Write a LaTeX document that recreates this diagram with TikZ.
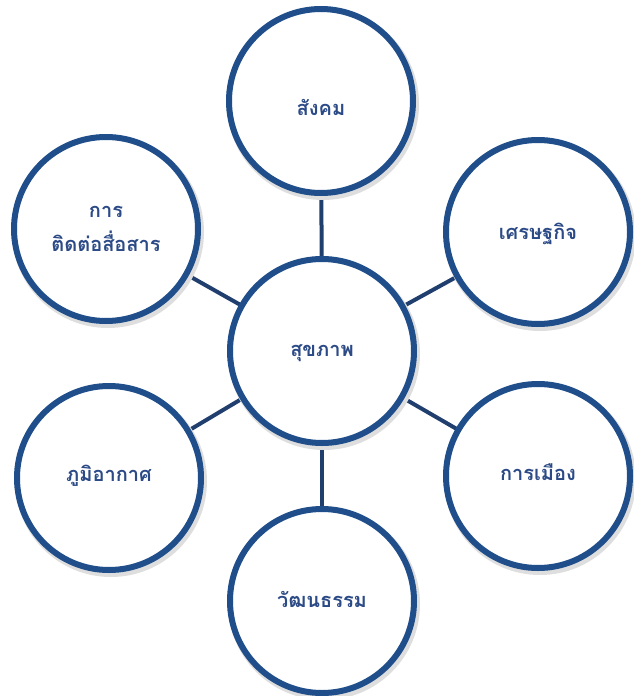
\documentclass[tikz,border=0pt]{standalone}
\usepackage{fontspec}
\usetikzlibrary{calc}
\newfontfamily\thaifont[Script=Thai]{Loma}
\definecolor{ring}{HTML}{1F4E8A}
\definecolor{link}{HTML}{203F6E}
\definecolor{txt}{HTML}{2B4A86}
\begin{document}
\begin{tikzpicture}[x=1pt,y=-1pt,
  bub/.style={circle,draw=ring,line width=6pt,fill=white,minimum size=184pt,inner sep=0pt},
  lbl/.style={font=\thaifont\fontsize{20}{34}\selectfont\bfseries,text=txt,align=center},
  conn/.style={draw=link,line width=4pt}]
\useasboundingbox (0,0) rectangle (634,696);
\coordinate (c0) at (322,351);
\coordinate (c1) at (321,101);
\coordinate (c2) at (538,232);
\coordinate (c3) at (538,476);
\coordinate (c4) at (322,601);
\coordinate (c5) at (109,478);
\coordinate (c6) at (106,229);
\foreach \i in {1,...,6}{\draw[conn] (c0) -- (c\i);}
\foreach \i in {0,...,6}{\fill[black!13] ($(c\i)+(2,3)$) circle (96);}
\foreach \i in {0,...,6}{\node[bub] (n\i) at (c\i) {};}
\node[lbl] (t0) at ($(n0)+(0,2)$) {สุขภาพ};
\node[lbl] (t1) at ($(n1)+(0,6)$) {สังคม};
\node[lbl] (t2) at ($(n2)+(0,2)$) {เศรษฐกิจ};
\node[lbl] (t3) at ($(n3)+(0,-4)$) {การเมือง};
\node[lbl] (t4) at ($(n4)+(0,-2)$) {วัฒนธรรม};
\node[lbl] (t5) at ($(n5)+(0,-2)$) {ภูมิอากาศ};
\node[lbl] (t6) at ($(n6)+(0,0)$) {การ\\ติดต่อสื่อสาร};
\end{tikzpicture}
\end{document}
